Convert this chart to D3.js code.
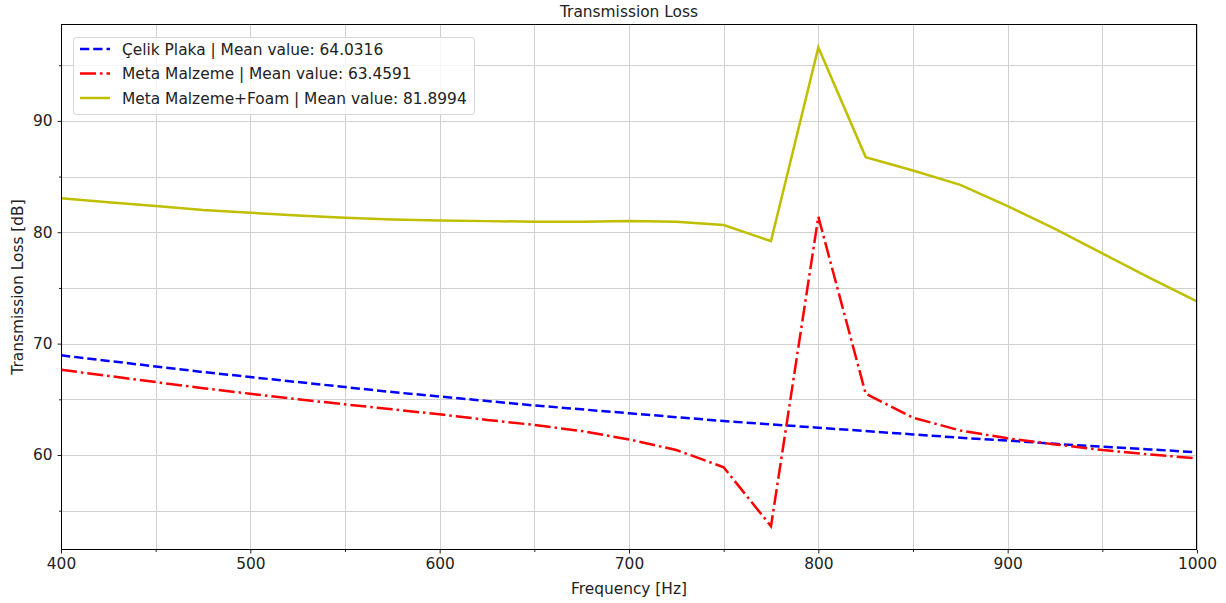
<!DOCTYPE html>
<html>
<head>
<meta charset="utf-8">
<script src="https://cdn.jsdelivr.net/npm/d3@7"></script>
<style>
  body { margin: 0; background: #fff; }
  svg { font-family: "DejaVu Sans", sans-serif; }
</style>
</head>
<body>
<svg width="1226" height="603"></svg>
<script>
const freqs = [400, 425, 450, 475, 500, 525, 550, 575, 600, 625, 650, 675, 700,
	725, 750, 775, 800, 825, 850, 875, 900, 925, 950, 975, 1000]

const celik = [68.95, 68.45, 67.95, 67.45, 67.0, 66.55, 66.1, 65.65, 65.25, 64.85, 64.45, 64.1, 63.75,
	63.4, 63.05, 62.75, 62.45, 62.15, 61.85, 61.55, 61.3, 61.0, 60.75, 60.5, 60.25]

const meta = [67.65, 67.1, 66.55, 66.0, 65.5, 65.0, 64.55, 64.1, 63.65, 63.15, 62.7, 62.15, 61.4,
	60.45, 58.9, 53.6, 81.4, 65.5, 63.35, 62.2, 61.5, 60.95, 60.45, 60.05, 59.7]

const metaFoam = [83.05, 82.7, 82.35, 82.0, 81.75, 81.5, 81.3, 81.15, 81.05, 81.0, 80.95, 80.95, 81.0,
	80.95, 80.65, 79.2, 96.6, 86.75, 85.55, 84.25, 82.35, 80.3, 78.1, 75.9, 73.8]

const seriesNames = ['Çelik Plaka | Mean value: 64.0316',
	'Meta Malzeme | Mean value: 63.4591',
	'Meta Malzeme+Foam | Mean value: 81.8994']

const xTicks = [400, 500, 600, 700, 800, 900, 1000]
const xMinor = [450, 550, 650, 750, 850, 950]
const yTicks = [60, 70, 80, 90]
const yMinor = [55, 65, 75, 85, 95]

const series = [
	{ name: seriesNames[0], values: celik, color: '#0000ff', dash: '9.25,4' },
	{ name: seriesNames[1], values: meta, color: '#ff0000', dash: '16,4,2.5,4' },
	{ name: seriesNames[2], values: metaFoam, color: '#bfbf00', dash: null }
]

const plot = { left: 61, right: 1197, top: 24, bottom: 550 }
const fs = 15.4
const svg = d3.select('svg')

let xScale = d3.scaleLinear().domain([400, 1000]).range([plot.left, plot.right])
let yScale = d3.scaleLinear().domain([51.47, 98.7]).range([plot.bottom, plot.top])

// grid
let grid = svg.append('g').attr('stroke', '#d0d0d0').attr('stroke-width', 1)
grid.selectAll('.gx').data(xTicks.concat(xMinor)).enter().append('line')
	.attr('x1', d => Math.round(xScale(d)) + 0.5).attr('x2', d => Math.round(xScale(d)) + 0.5)
	.attr('y1', plot.top).attr('y2', plot.bottom)
grid.selectAll('.gy').data(yTicks.concat(yMinor)).enter().append('line')
	.attr('x1', plot.left).attr('x2', plot.right)
	.attr('y1', d => Math.round(yScale(d)) + 0.5).attr('y2', d => Math.round(yScale(d)) + 0.5)

// lines
svg.append('clipPath').attr('id', 'clip').append('rect')
	.attr('x', plot.left).attr('y', plot.top)
	.attr('width', plot.right - plot.left).attr('height', plot.bottom - plot.top)

let line = d3.line()
	.x((d, i) => xScale(freqs[i]))
	.y(d => yScale(d))

svg.append('g').attr('clip-path', 'url(#clip)')
	.selectAll('path').data(series).enter().append('path')
	.attr('d', d => line(d.values))
	.attr('fill', 'none')
	.attr('stroke', d => d.color)
	.attr('stroke-width', 2.5)
	.attr('stroke-dasharray', d => d.dash)

// axes
let bottomAxisG = svg.append('g').attr('transform', `translate(0, ${plot.bottom})`)
bottomAxisG.call(d3.axisBottom(xScale).tickValues(xTicks).tickSize(3.5).tickPadding(5).tickFormat(d3.format('d')))
let bottomMinor = svg.append('g').attr('transform', `translate(0, ${plot.bottom})`)
bottomMinor.call(d3.axisBottom(xScale).tickValues(xMinor).tickSize(2).tickFormat(''))

let leftAxisG = svg.append('g').attr('transform', `translate(${plot.left}, 0)`)
leftAxisG.call(d3.axisLeft(yScale).tickValues(yTicks).tickSize(3.5).tickPadding(5))
let leftMinor = svg.append('g').attr('transform', `translate(${plot.left}, 0)`)
leftMinor.call(d3.axisLeft(yScale).tickValues(yMinor).tickSize(2).tickFormat(''))

svg.selectAll('.domain').remove()
svg.selectAll('.tick text').attr('font-size', fs).attr('fill', '#222').attr('font-family', '"DejaVu Sans", sans-serif')
svg.selectAll('.tick line').attr('stroke', '#222')

svg.append('rect')
	.attr('x', plot.left + 0.5).attr('y', plot.top + 0.5)
	.attr('width', plot.right - plot.left - 1).attr('height', plot.bottom - plot.top - 1)
	.attr('fill', 'none').attr('stroke', '#000').attr('stroke-width', 1)

// labels
svg.append('text').attr('x', (plot.left + plot.right) / 2).attr('y', 17)
	.attr('text-anchor', 'middle').attr('font-size', fs).attr('fill', '#222')
	.text('Transmission Loss')
svg.append('text').attr('x', (plot.left + plot.right) / 2).attr('y', 594)
	.attr('text-anchor', 'middle').attr('font-size', fs).attr('fill', '#222')
	.text('Frequency [Hz]')
svg.append('text')
	.attr('transform', `translate(23, ${(plot.top + plot.bottom) / 2}) rotate(-90)`)
	.attr('text-anchor', 'middle').attr('font-size', fs).attr('fill', '#222')
	.text('Transmission Loss [dB]')

// legend
let legend = svg.append('g')
legend.append('rect')
	.attr('x', 73.5).attr('y', 37.5).attr('width', 401).attr('height', 77)
	.attr('rx', 3).attr('fill', 'rgba(255,255,255,0.8)').attr('stroke', '#d6d6d6')
let items = legend.selectAll('.item').data(series).enter().append('g')
	.attr('transform', (d, i) => `translate(0, ${49 + i * 24.5})`)
items.append('line')
	.attr('x1', 80).attr('x2', 110).attr('y1', 0).attr('y2', 0)
	.attr('stroke', d => d.color).attr('stroke-width', 2.5)
	.attr('stroke-dasharray', d => d.dash)
items.append('text')
	.attr('x', 122).attr('y', 5.5)
	.attr('font-size', fs).attr('fill', '#222')
	.text(d => d.name)
</script>
</body>
</html>
